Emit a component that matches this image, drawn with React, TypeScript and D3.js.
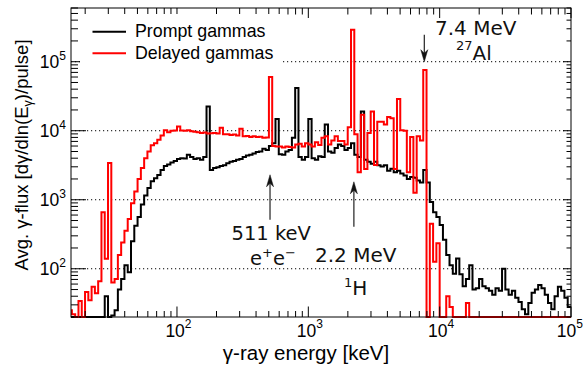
import React from 'react';
import * as d3 from 'd3';

const W = 584;
const H = 374;
const M = { left: 71, right: 571, top: 8, bottom: 317 };

const xDomain: [number, number] = [15.6, 1e5];
const yDomain: [number, number] = [20, 6e5];

// histogram binning (log-spaced bins, 40 per decade, first edge at 10^1.175 keV)
const binLogStart = 1.175;
const binsPerDecade = 40;

// Prompt gammas, flux per bin
const promptFlux = [
  0, 0, 0, 0, 0, 0, 0, 0, 0, 0, 0, 40, 20, 21, 25, 50, 71, 112, 89, 250,
  420, 560, 850, 1150, 1480, 1860, 2040, 2290, 2690, 3090, 3240, 3470, 3630, 3890, 3980, 3950, 4470, 4170, 3890, 3980,
  3800, 4170, 22400, 2690, 2880, 2950, 3090, 3160, 3390, 3550, 3630, 3800, 3890, 4170, 4370, 4470, 4680, 4900, 5010, 5500,
  5250, 6030, 6610, 14800, 4570, 4470, 5010, 5250, 7940, 41700, 4170, 3800, 4170, 14800, 3980, 3800, 4270, 4170, 12300, 5010,
  4790, 5620, 6310, 6030, 5250, 5620, 6610, 4470, 4170, 19000, 3800, 3550, 3310, 3550, 3160, 3020, 3160, 2630, 2820, 2510,
  2630, 2400, 2240, 2000, 2140, 2090, 1900, 1780, 2690, 1780, 930, 660, 560, 430, 263, 158, 112, 85, 141, 83,
  56, 71, 112, 50, 52, 71, 56, 52, 48, 42, 52, 48, 100, 50, 42, 48, 38, 33, 26, 22,
  32, 45, 50, 58, 52, 42, 32, 26, 40, 55, 48, 38, 28,
];

// Delayed gammas, flux per bin
const delayedFlux = [
  25, 22, 0, 34, 0, 46, 35, 55, 44, 66, 660, 140, 3400, 63, 71, 158, 240, 355, 525, 890,
  1320, 2000, 2880, 3980, 5000, 6170, 6600, 7400, 8500, 10200, 9500, 10000, 10100, 11500, 10100, 10000, 10200, 9800, 9700, 9500,
  9300, 9400, 9100, 9200, 9300, 9100, 11000, 8900, 8900, 8700, 8800, 8500, 10700, 8300, 8400, 8100, 8300, 8100, 8200, 7900,
  8000, 60000, 6000, 5900, 5900, 5700, 5900, 5800, 5700, 6300, 6500, 5900, 6600, 6300, 5900, 6800, 6200, 7900, 8300, 6300,
  7200, 8300, 7100, 7100, 6300, 11200, 290000, 8900, 2500, 17000, 2800, 9300, 19000, 3200, 13500, 13500, 12300, 15800, 15100, 2800,
  28800, 10200, 10000, 2500, 8100, 1260, 8300, 7200, 76000, 0, 450, 126, 234, 0, 0, 40, 28, 0, 0, 0,
  0, 32, 0, 0, 0, 0, 0, 0, 0, 0, 0, 0, 0, 0, 0, 0, 0, 0, 0, 0,
  0, 0, 0, 0, 0, 0, 0, 0, 0, 0, 0, 0, 0,
];

const xMajorExponents = [2, 3, 4, 5];
const yMajorExponents = [2, 3, 4, 5];

const seriesNames = ['Prompt gammas', 'Delayed gammas'];
const seriesColors = ['#000000', '#ff0000'];

// annotation arrows: energy (keV), flux at tail, flux at tip
const arrowEnergies = [511, 2223, 7640];
const arrowTailFlux = [515, 407, 246000];
const arrowTipFlux = [2300, 1820, 100000];

const SANS = "'Liberation Sans', Arial, Helvetica, sans-serif";
const DEJAVU = "'DejaVu Sans', sans-serif";

export default function App() {
  const x = d3.scaleLog().domain(xDomain).range([M.left, M.right]);
  const y = d3.scaleLog().domain(yDomain).range([M.bottom, M.top]);

  const nBins = promptFlux.length;
  const edges = d3.range(nBins + 1).map((i) => Math.pow(10, binLogStart + i / binsPerDecade));

  const histPath = (vals: number[]) => {
    const pts: [number, number][] = vals.map((v, i) => [x(edges[i]), y(Math.max(v, yDomain[0]))]);
    pts.push([x(edges[nBins]), y(Math.max(vals[nBins - 1], yDomain[0]))]);
    return d3.line().curve(d3.curveStepAfter)(pts) || '';
  };

  const xTicks: { v: number; major: boolean }[] = [];
  for (let d = 1; d <= 5; d++) {
    for (let m = 1; m <= 9; m++) {
      const v = m * Math.pow(10, d);
      if (v >= xDomain[0] && v <= xDomain[1]) xTicks.push({ v, major: m === 1 });
    }
  }
  const yTicks: { v: number; major: boolean }[] = [];
  for (let d = 1; d <= 5; d++) {
    for (let m = 1; m <= 9; m++) {
      const v = m * Math.pow(10, d);
      if (v >= yDomain[0] && v <= yDomain[1]) yTicks.push({ v, major: m === 1 });
    }
  }

  const arrowHead = (tx: number, ty: number, dir: number) => {
    const L = 12;
    const hw = 3.5;
    const n = 8.5;
    return `M${tx},${ty} L${tx - hw},${ty - dir * L} L${tx},${ty - dir * n} L${tx + hw},${ty - dir * L} Z`;
  };

  return (
    <svg width={W} height={H} style={{ position: 'absolute', left: 0, top: 0, background: '#fff' }}>
      <defs>
        <clipPath id="plotClip">
          <rect x={M.left} y={M.top} width={M.right - M.left} height={M.bottom - M.top + 2} />
        </clipPath>
      </defs>
      <rect x={0} y={0} width={W} height={H} fill="#fff" />

      {yMajorExponents.map((e) => (
        <line
          key={'g' + e}
          x1={M.left}
          x2={M.right}
          y1={y(Math.pow(10, e))}
          y2={y(Math.pow(10, e))}
          stroke="#000"
          strokeWidth={1}
          strokeDasharray="1.2,2.8"
        />
      ))}

      <g clipPath="url(#plotClip)" fill="none" strokeWidth={2} strokeLinejoin="miter">
        <path d={histPath(promptFlux)} stroke={seriesColors[0]} />
        <path d={histPath(delayedFlux)} stroke={seriesColors[1]} />
      </g>

      <rect x={M.left} y={M.top} width={M.right - M.left} height={M.bottom - M.top} fill="none" stroke="#000" strokeWidth={1} />

      {xTicks.map((t, i) => {
        const px = x(t.v);
        return (
          <g key={'xt' + i} stroke="#000" strokeWidth={1}>
            <line x1={px} x2={px} y1={M.bottom} y2={M.bottom - (t.major ? 10.5 : 6)} />
            <line x1={px} x2={px} y1={M.top} y2={M.top + (t.major ? 10 : 6.5)} />
          </g>
        );
      })}
      {yTicks.map((t, i) => {
        const py = y(t.v);
        return (
          <g key={'yt' + i} stroke="#000" strokeWidth={1}>
            <line x1={M.left} x2={M.left + (t.major ? 15 : 7)} y1={py} y2={py} />
            <line x1={M.right} x2={M.right - (t.major ? 8 : 4.5)} y1={py} y2={py} />
          </g>
        );
      })}

      {xMajorExponents.map((e, i) => {
        const last = i === xMajorExponents.length - 1;
        return (
          <text
            key={'xl' + e}
            x={last ? 583 : x(Math.pow(10, e)) + 1.5}
            y={337}
            textAnchor={last ? 'end' : 'middle'}
            fontFamily={SANS}
            fontSize={17.5}
            fill="#000"
          >
            10
            <tspan dy={-9} fontSize={12}>
              {e}
            </tspan>
          </text>
        );
      })}
      {yMajorExponents.map((e) => (
        <text
          key={'yl' + e}
          x={66}
          y={y(Math.pow(10, e)) + 6}
          textAnchor="end"
          fontFamily={SANS}
          fontSize={17.5}
          fill="#000"
        >
          10
          <tspan dy={-8} fontSize={12}>
            {e}
          </tspan>
        </text>
      ))}

      <text x={306} y={360} textAnchor="middle" fontFamily={SANS} fontSize={20.5} fill="#000">
        γ-ray energy [keV]
      </text>
      <text
        transform={`translate(27.5,155) rotate(-90)`}
        textAnchor="middle"
        fontFamily={SANS}
        fontSize={18.5}
        fill="#000"
      >
        Avg. γ-flux [dγ/dln(E
        <tspan dy={4} fontSize={12.5}>
          γ
        </tspan>
        <tspan dy={-4}>)/pulse]</tspan>
      </text>

      <rect x={80} y={14} width={201} height={57} fill="#fff" />
      {seriesNames.map((name, i) => (
        <g key={'lg' + i}>
          <line x1={92.5} x2={126} y1={31.7 + i * 21.6} y2={31.7 + i * 21.6} stroke={seriesColors[i]} strokeWidth={2} />
          <text x={135} y={37 + i * 21.6} fontFamily={SANS} fontSize={17.8} fill="#000">
            {name}
          </text>
        </g>
      ))}

      {arrowEnergies.map((en, i) => {
        const ax = x(en);
        const yt = y(arrowTailFlux[i]);
        const yh = y(arrowTipFlux[i]);
        const dir = yh > yt ? 1 : -1;
        return (
          <g key={'ar' + i}>
            <line x1={ax} x2={ax} y1={yt} y2={yh - dir * 8} stroke="#222" strokeWidth={1.2} />
            <path d={arrowHead(ax, yh, dir)} fill="#111" stroke="#111" strokeWidth={0.5} />
          </g>
        );
      })}

      <g fontFamily={DEJAVU} fill="#111">
        <text x={231.5} y={240} fontSize={19.5}>
          511 keV
        </text>
        <text x={250} y={265} fontSize={19.5}>
          e
          <tspan dy={-8} fontSize={13}>
            +
          </tspan>
          <tspan dy={8}>e</tspan>
          <tspan dy={-8} fontSize={13}>
            −
          </tspan>
        </text>
        <text x={315} y={262} fontSize={20}>
          2.2 MeV
        </text>
        <text x={344} y={295} fontSize={20}>
          <tspan dy={-8} fontSize={13}>
            1
          </tspan>
          <tspan dy={8}>H</tspan>
        </text>
        <text x={435} y={34.5} fontSize={20}>
          7.4 MeV
        </text>
        <text x={456} y={60} fontSize={20}>
          <tspan dy={-10} fontSize={13}>
            27
          </tspan>
          <tspan dy={10}>Al</tspan>
        </text>
      </g>
    </svg>
  );
}
